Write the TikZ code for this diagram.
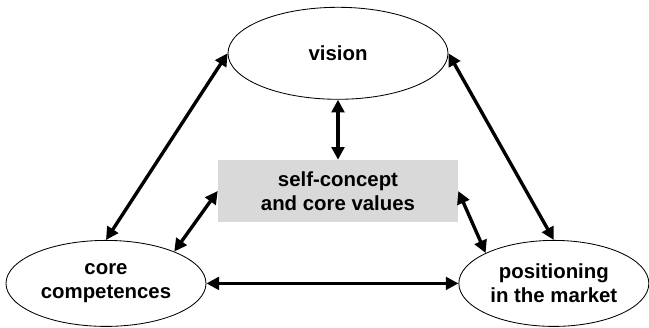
\documentclass[tikz,border=0pt]{standalone}
\usepackage{fontspec}
\setmainfont{Liberation Sans}
\usepackage{tikz}
\usetikzlibrary{arrows.meta}
\usetikzlibrary{positioning}
\usetikzlibrary{shapes.geometric}
\definecolor{boxgray}{RGB}{217,217,217}

\begin{document}
\begin{tikzpicture}
	\tikzstyle{every node}=[font=\fontsize{14.5}{17}\selectfont\bfseries,align=center]
	\tikzstyle{goal}=[draw,ellipse,line width=0.6pt,inner sep=0pt]
	\useasboundingbox (-8.45,-3.425) rectangle (7.775,4.775);

	\node (self) [fill=boxgray,minimum width=6cm,minimum height=1.55cm] {self-concept\\and core values};
	\node (vision) [goal,above=1.5cm of self,minimum width=5.5cm,minimum height=2.3cm] {vision};
	\node (core) [goal,minimum width=5cm,minimum height=2.15cm] at (-5.8,-2.31) {core\\competences};
	\node (market) [goal,right=6.3cm of core,minimum width=4.75cm,minimum height=2.15cm] {positioning\\in the market};

	\path[<->,line width=2.4pt,>={Triangle[length=9pt,width=9pt]}]
		(vision) edge (self)
		(vision.west) edge (core.north)
		(vision.east) edge (market.north)
		(core) edge (market)
		(self.west) edge (core.25)
		(self.east) edge (market.156);
\end{tikzpicture}
\end{document}
